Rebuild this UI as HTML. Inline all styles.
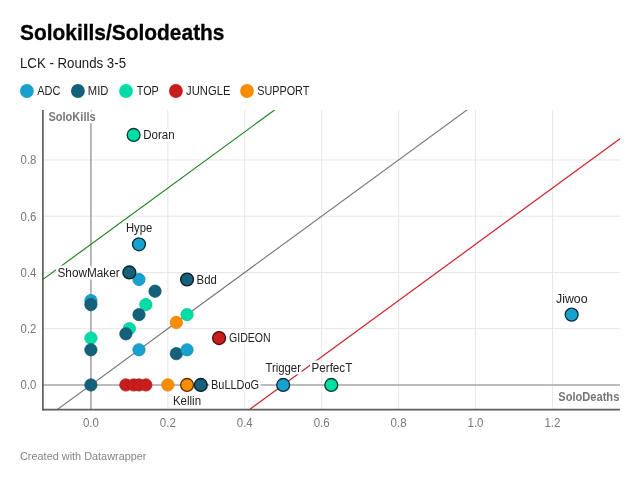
<!DOCTYPE html>
<html><head><meta charset="utf-8"><title>Solokills/Solodeaths</title>
<style>
html,body{margin:0;padding:0;background:#fff;}
svg{display:block;font-family:"Liberation Sans",sans-serif;}
.t{font-size:12px;fill:#222;}
.h{paint-order:stroke;stroke:#fff;stroke-width:5px;stroke-linejoin:round;}
.tick{font-size:12px;fill:#777;}
.ax{font-size:12px;font-weight:bold;fill:#777;}
</style></head><body>
<svg width="640" height="483" viewBox="0 0 640 483">
<rect width="640" height="483" fill="#fff"/>
<text x="20" y="40.3" font-size="22" font-weight="bold" fill="#000" stroke="#000" stroke-width="0.3" textLength="204.5" lengthAdjust="spacingAndGlyphs">Solokills/Solodeaths</text>
<text x="20" y="68.1" font-size="14" fill="#181818" textLength="106" lengthAdjust="spacingAndGlyphs">LCK - Rounds 3-5</text>
<circle cx="26.9" cy="91" r="6.9" fill="#18a1cd"/>
<text class="t" x="37.3" y="95" textLength="23.1" lengthAdjust="spacingAndGlyphs">ADC</text>
<circle cx="77.9" cy="91" r="6.9" fill="#15607a"/>
<text class="t" x="87.8" y="95" textLength="20.6" lengthAdjust="spacingAndGlyphs">MID</text>
<circle cx="126.0" cy="91" r="6.9" fill="#00dca6"/>
<text class="t" x="136.8" y="95" textLength="22.0" lengthAdjust="spacingAndGlyphs">TOP</text>
<circle cx="175.9" cy="91" r="6.9" fill="#c71e1d"/>
<text class="t" x="186.1" y="95" textLength="44.3" lengthAdjust="spacingAndGlyphs">JUNGLE</text>
<circle cx="247.0" cy="91" r="6.9" fill="#fa8c00"/>
<text class="t" x="257.2" y="95" textLength="52.1" lengthAdjust="spacingAndGlyphs">SUPPORT</text>
<line x1="167.82" y1="110.0" x2="167.82" y2="409.7" stroke="#e6e6e6" stroke-width="1"/>
<line x1="244.74" y1="110.0" x2="244.74" y2="409.7" stroke="#e6e6e6" stroke-width="1"/>
<line x1="321.66" y1="110.0" x2="321.66" y2="409.7" stroke="#e6e6e6" stroke-width="1"/>
<line x1="398.58" y1="110.0" x2="398.58" y2="409.7" stroke="#e6e6e6" stroke-width="1"/>
<line x1="475.50" y1="110.0" x2="475.50" y2="409.7" stroke="#e6e6e6" stroke-width="1"/>
<line x1="552.42" y1="110.0" x2="552.42" y2="409.7" stroke="#e6e6e6" stroke-width="1"/>
<line x1="43.0" y1="328.70" x2="620.0" y2="328.70" stroke="#e6e6e6" stroke-width="1"/>
<line x1="43.0" y1="272.45" x2="620.0" y2="272.45" stroke="#e6e6e6" stroke-width="1"/>
<line x1="43.0" y1="216.20" x2="620.0" y2="216.20" stroke="#e6e6e6" stroke-width="1"/>
<line x1="43.0" y1="159.95" x2="620.0" y2="159.95" stroke="#e6e6e6" stroke-width="1"/>
<line x1="90.90" y1="110.0" x2="90.90" y2="409.7" stroke="#a6a6a6" stroke-width="1.6"/>
<line x1="43.0" y1="384.95" x2="620.0" y2="384.95" stroke="#a6a6a6" stroke-width="1.6"/>
<clipPath id="c"><rect x="43.0" y="110.0" width="577.0" height="299.7"/></clipPath>
<line clip-path="url(#c)" x1="-101.40" y1="384.95" x2="860.10" y2="-318.18" stroke="#1c801c" stroke-width="1.15"/>
<line clip-path="url(#c)" x1="-101.40" y1="525.58" x2="860.10" y2="-177.55" stroke="#747474" stroke-width="1.1"/>
<line clip-path="url(#c)" x1="-101.40" y1="666.20" x2="860.10" y2="-36.93" stroke="#cf2029" stroke-width="1.2"/>
<line x1="42.9" y1="110.0" x2="42.9" y2="410.59999999999997" stroke="#5e5e5e" stroke-width="1.7"/>
<line x1="42.4" y1="409.7" x2="620.0" y2="409.7" stroke="#5e5e5e" stroke-width="1.7"/>
<text class="tick" x="90.90" y="426.6" text-anchor="middle" textLength="16" lengthAdjust="spacingAndGlyphs">0.0</text>
<text class="tick" x="167.82" y="426.6" text-anchor="middle" textLength="16" lengthAdjust="spacingAndGlyphs">0.2</text>
<text class="tick" x="244.74" y="426.6" text-anchor="middle" textLength="16" lengthAdjust="spacingAndGlyphs">0.4</text>
<text class="tick" x="321.66" y="426.6" text-anchor="middle" textLength="16" lengthAdjust="spacingAndGlyphs">0.6</text>
<text class="tick" x="398.58" y="426.6" text-anchor="middle" textLength="16" lengthAdjust="spacingAndGlyphs">0.8</text>
<text class="tick" x="475.50" y="426.6" text-anchor="middle" textLength="16" lengthAdjust="spacingAndGlyphs">1.0</text>
<text class="tick" x="552.42" y="426.6" text-anchor="middle" textLength="16" lengthAdjust="spacingAndGlyphs">1.2</text>
<text class="tick" x="36.4" y="389.35" text-anchor="end" textLength="15.8" lengthAdjust="spacingAndGlyphs">0.0</text>
<text class="tick" x="36.4" y="333.10" text-anchor="end" textLength="15.8" lengthAdjust="spacingAndGlyphs">0.2</text>
<text class="tick" x="36.4" y="276.85" text-anchor="end" textLength="15.8" lengthAdjust="spacingAndGlyphs">0.4</text>
<text class="tick" x="36.4" y="220.60" text-anchor="end" textLength="15.8" lengthAdjust="spacingAndGlyphs">0.6</text>
<text class="tick" x="36.4" y="164.35" text-anchor="end" textLength="15.8" lengthAdjust="spacingAndGlyphs">0.8</text>
<text class="ax h" x="48.4" y="121.0" textLength="47.3" lengthAdjust="spacingAndGlyphs">SoloKills</text>
<text class="ax h" x="619.3" y="400.8" text-anchor="end" textLength="61" lengthAdjust="spacingAndGlyphs">SoloDeaths</text>
<circle cx="90.90" cy="300.57" r="6.15" fill="#18a1cd" stroke="#1590b8" stroke-width="0.8"/>
<circle cx="90.90" cy="304.60" r="6.15" fill="#15607a" stroke="#12556c" stroke-width="0.8"/>
<circle cx="138.98" cy="279.48" r="6.15" fill="#18a1cd" stroke="#1590b8" stroke-width="0.8"/>
<circle cx="155.01" cy="291.21" r="6.15" fill="#15607a" stroke="#12556c" stroke-width="0.8"/>
<circle cx="145.86" cy="304.60" r="6.15" fill="#00dca6" stroke="#00c494" stroke-width="0.8"/>
<circle cx="138.98" cy="314.64" r="6.15" fill="#15607a" stroke="#12556c" stroke-width="0.8"/>
<circle cx="176.36" cy="322.46" r="6.15" fill="#fa8c00" stroke="#e07d00" stroke-width="0.8"/>
<circle cx="187.05" cy="314.64" r="6.15" fill="#00dca6" stroke="#00c494" stroke-width="0.8"/>
<circle cx="129.36" cy="328.70" r="6.15" fill="#00dca6" stroke="#00c494" stroke-width="0.8"/>
<circle cx="125.86" cy="333.82" r="6.15" fill="#15607a" stroke="#12556c" stroke-width="0.8"/>
<circle cx="90.90" cy="338.07" r="6.15" fill="#00dca6" stroke="#00c494" stroke-width="0.8"/>
<circle cx="90.90" cy="349.79" r="6.15" fill="#15607a" stroke="#12556c" stroke-width="0.8"/>
<circle cx="138.98" cy="349.79" r="6.15" fill="#18a1cd" stroke="#1590b8" stroke-width="0.8"/>
<circle cx="176.36" cy="353.70" r="6.15" fill="#15607a" stroke="#12556c" stroke-width="0.8"/>
<circle cx="187.05" cy="349.79" r="6.15" fill="#18a1cd" stroke="#1590b8" stroke-width="0.8"/>
<circle cx="90.90" cy="384.95" r="6.15" fill="#15607a" stroke="#12556c" stroke-width="0.8"/>
<circle cx="125.86" cy="384.95" r="6.15" fill="#c71e1d" stroke="#b11a19" stroke-width="0.8"/>
<circle cx="133.63" cy="384.95" r="6.15" fill="#c71e1d" stroke="#b11a19" stroke-width="0.8"/>
<circle cx="138.98" cy="384.95" r="6.15" fill="#c71e1d" stroke="#b11a19" stroke-width="0.8"/>
<circle cx="145.86" cy="384.95" r="6.15" fill="#c71e1d" stroke="#b11a19" stroke-width="0.8"/>
<circle cx="167.82" cy="384.95" r="6.15" fill="#fa8c00" stroke="#e07d00" stroke-width="0.8"/>
<circle cx="187.05" cy="384.95" r="6.45" fill="#fa8c00" stroke="#5a3200" stroke-width="1.3"/>
<circle cx="200.78" cy="384.95" r="6.45" fill="#15607a" stroke="#051e27" stroke-width="1.3"/>
<circle cx="283.20" cy="384.95" r="6.45" fill="#18a1cd" stroke="#082c3a" stroke-width="1.3"/>
<circle cx="331.27" cy="384.95" r="6.45" fill="#00dca6" stroke="#043d2e" stroke-width="1.3"/>
<circle cx="219.09" cy="338.07" r="6.45" fill="#c71e1d" stroke="#4a0908" stroke-width="1.3"/>
<circle cx="187.05" cy="279.48" r="6.45" fill="#15607a" stroke="#051e27" stroke-width="1.3"/>
<circle cx="129.36" cy="272.45" r="6.45" fill="#15607a" stroke="#051e27" stroke-width="1.3"/>
<circle cx="138.98" cy="244.32" r="6.45" fill="#18a1cd" stroke="#082c3a" stroke-width="1.3"/>
<circle cx="133.63" cy="134.95" r="6.45" fill="#00dca6" stroke="#043d2e" stroke-width="1.3"/>
<circle cx="571.65" cy="314.64" r="6.45" fill="#18a1cd" stroke="#082c3a" stroke-width="1.3"/>
<text class="t h" x="143.2" y="139.40" text-anchor="start" textLength="31.4" lengthAdjust="spacingAndGlyphs">Doran</text>
<text class="t h" x="139.05" y="231.60" text-anchor="middle" textLength="26.3" lengthAdjust="spacingAndGlyphs">Hype</text>
<text class="t h" x="119.6" y="277.10" text-anchor="end" textLength="62.1" lengthAdjust="spacingAndGlyphs">ShowMaker</text>
<text class="t h" x="196.6" y="284.20" text-anchor="start" textLength="20.2" lengthAdjust="spacingAndGlyphs">Bdd</text>
<text class="t h" x="229.0" y="342.20" text-anchor="start" textLength="41.6" lengthAdjust="spacingAndGlyphs">GIDEON</text>
<text class="t h" x="211.0" y="388.90" text-anchor="start" textLength="48.1" lengthAdjust="spacingAndGlyphs">BuLLDoG</text>
<text class="t h" x="187.0" y="405.25" text-anchor="middle" textLength="28.1" lengthAdjust="spacingAndGlyphs">Kellin</text>
<text class="t h" x="283.2" y="372.00" text-anchor="middle" textLength="35.6" lengthAdjust="spacingAndGlyphs">Trigger</text>
<text class="t h" x="331.9" y="372.00" text-anchor="middle" textLength="40.7" lengthAdjust="spacingAndGlyphs">PerfecT</text>
<text class="t h" x="571.75" y="303.10" text-anchor="middle" textLength="31.5" lengthAdjust="spacingAndGlyphs">Jiwoo</text>
<text x="20" y="460.4" font-size="11" fill="#858585" textLength="126.5" lengthAdjust="spacingAndGlyphs">Created with Datawrapper</text>
</svg></body></html>
